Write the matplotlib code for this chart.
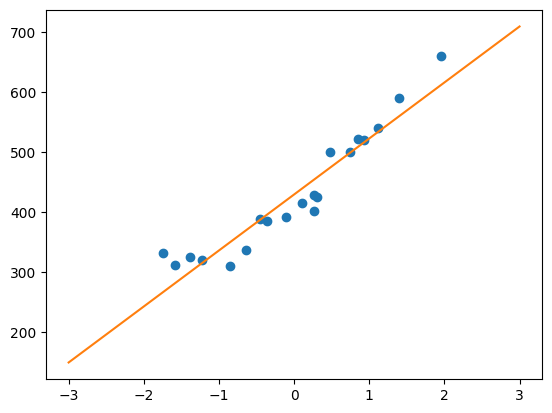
import matplotlib
matplotlib.use('Agg')
import matplotlib.pyplot as plt

# scatter data
x_pts = [-1.74, -1.59, -1.39, -1.23, -0.85, -0.64, -0.45, -0.36, -0.11, 0.10,
         0.26, 0.26, 0.31, 0.48, 0.75, 0.85, 0.93, 1.12, 1.40, 1.96]
y_pts = [333, 312, 326, 321, 310, 337, 389, 386, 393, 415,
         402, 429, 426, 500, 500, 523, 520, 540, 591, 660]

# fitted line endpoints
line_x = [-3, 3]
line_y = [150, 710]

fig, ax = plt.subplots(figsize=(6.4, 4.8), dpi=100)
ax.scatter(x_pts, y_pts)
ax.plot(line_x, line_y, color='C1')

fig.savefig('out.png', dpi=100, bbox_inches='tight')
